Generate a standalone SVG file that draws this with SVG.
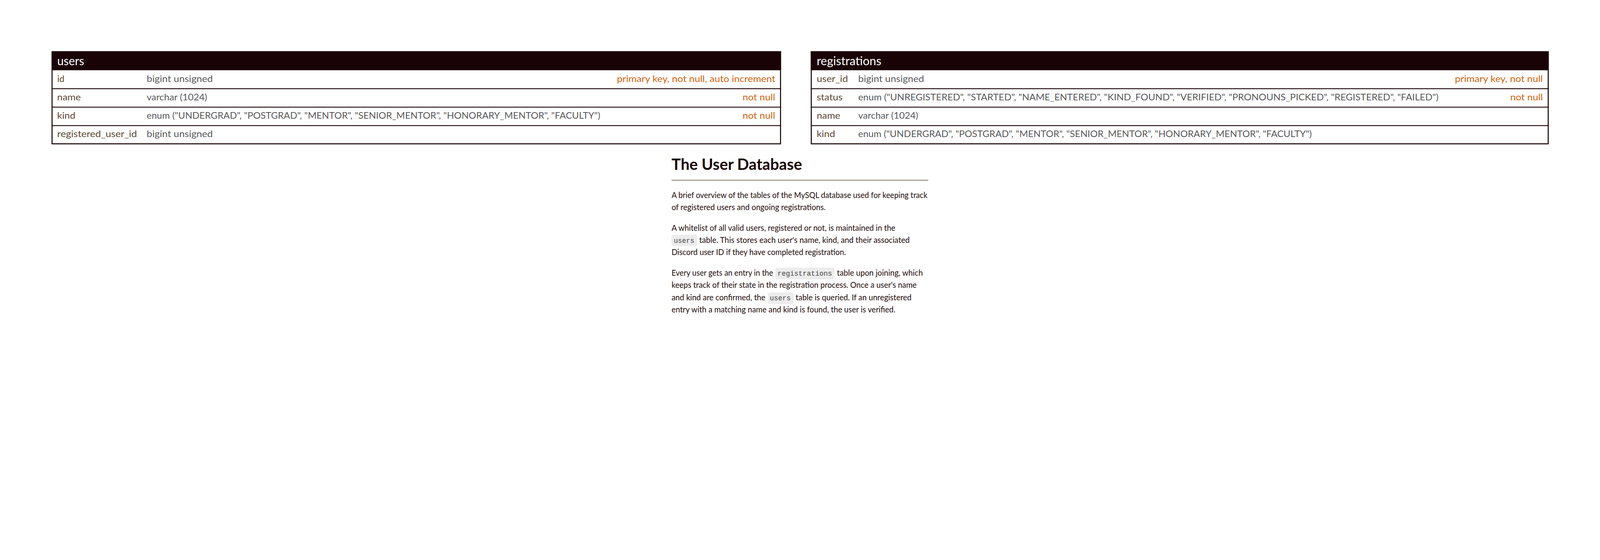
<svg xmlns="http://www.w3.org/2000/svg" width="6240" height="1434" viewBox="0 0 6240 1434" preserveAspectRatio="xMidYMin meet">
<style>
svg{width:100vw;height:100vh;display:block}
text{font-family:Lato,"Open Sans","Noto Sans",sans-serif}
.hd{fill:#1a0306}
.tb{fill:#fff;stroke:#1a0306;stroke-width:4}
.sep{stroke:#1a0306;stroke-width:3.6}
.th{fill:#fff;font-size:46px}
.cn{fill:#5c4731;font-size:35px}
.ct{fill:#58585a;font-size:35px}
.cc{fill:#d4620f;font-size:35px}
.ti{fill:#1a0306;font-size:60px;font-weight:700}
.bd{fill:#1f0c0c;font-size:31px}
.cb{fill:#ececec}
.mo{font-family:"Liberation Mono","DejaVu Sans Mono",monospace;font-size:27px;fill:#444}
</style>
<rect width="6240" height="1434" fill="#fff"/>
<g id="connectors"/>
<g id="users">
<rect class="tb" x="203" y="202" width="2841" height="359"/>
<rect class="hd" x="201" y="200" width="2845" height="74"/>
<line class="sep" x1="201" y1="346" x2="3046" y2="346"/>
<line class="sep" x1="201" y1="418" x2="3046" y2="418"/>
<line class="sep" x1="201" y1="490" x2="3046" y2="490"/>
<text class="th" x="223" y="254" textLength="105" lengthAdjust="spacingAndGlyphs">users</text>
<text class="cn" x="223" y="320" textLength="28" lengthAdjust="spacingAndGlyphs">id</text>
<text class="ct" x="572" y="320" textLength="258" lengthAdjust="spacingAndGlyphs">bigint unsigned</text>
<text class="cc" x="2406" y="320" textLength="618" lengthAdjust="spacingAndGlyphs">primary key, not null, auto increment</text>
<text class="cn" x="223" y="392" textLength="92" lengthAdjust="spacingAndGlyphs">name</text>
<text class="ct" x="572" y="392" textLength="236" lengthAdjust="spacingAndGlyphs">varchar (1024)</text>
<text class="cc" x="2896" y="392" textLength="127" lengthAdjust="spacingAndGlyphs">not null</text>
<text class="cn" x="223" y="463" textLength="71" lengthAdjust="spacingAndGlyphs">kind</text>
<text class="ct" x="572" y="463" textLength="1769" lengthAdjust="spacingAndGlyphs">enum ("UNDERGRAD", "POSTGRAD", "MENTOR", "SENIOR_MENTOR", "HONORARY_MENTOR", "FACULTY")</text>
<text class="cc" x="2896" y="463" textLength="127" lengthAdjust="spacingAndGlyphs">not null</text>
<text class="cn" x="223" y="535" textLength="311" lengthAdjust="spacingAndGlyphs">registered_user_id</text>
<text class="ct" x="572" y="535" textLength="258" lengthAdjust="spacingAndGlyphs">bigint unsigned</text>
</g>
<g id="registrations">
<rect class="tb" x="3164" y="202" width="2874" height="359"/>
<rect class="hd" x="3162" y="200" width="2878" height="74"/>
<line class="sep" x1="3162" y1="346" x2="6040" y2="346"/>
<line class="sep" x1="3162" y1="418" x2="6040" y2="418"/>
<line class="sep" x1="3162" y1="490" x2="6040" y2="490"/>
<text class="th" x="3185" y="254" textLength="252" lengthAdjust="spacingAndGlyphs">registrations</text>
<text class="cn" x="3185" y="320" textLength="122" lengthAdjust="spacingAndGlyphs">user_id</text>
<text class="ct" x="3347" y="320" textLength="257" lengthAdjust="spacingAndGlyphs">bigint unsigned</text>
<text class="cc" x="5674" y="320" textLength="343" lengthAdjust="spacingAndGlyphs">primary key, not null</text>
<text class="cn" x="3185" y="392" textLength="101" lengthAdjust="spacingAndGlyphs">status</text>
<text class="ct" x="3347" y="392" textLength="2263" lengthAdjust="spacingAndGlyphs">enum ("UNREGISTERED", "STARTED", "NAME_ENTERED", "KIND_FOUND", "VERIFIED", "PRONOUNS_PICKED", "REGISTERED", "FAILED")</text>
<text class="cc" x="5890" y="392" textLength="127" lengthAdjust="spacingAndGlyphs">not null</text>
<text class="cn" x="3185" y="463" textLength="92" lengthAdjust="spacingAndGlyphs">name</text>
<text class="ct" x="3347" y="463" textLength="234" lengthAdjust="spacingAndGlyphs">varchar (1024)</text>
<text class="cn" x="3185" y="535" textLength="72" lengthAdjust="spacingAndGlyphs">kind</text>
<text class="ct" x="3347" y="535" textLength="1769" lengthAdjust="spacingAndGlyphs">enum ("UNDERGRAD", "POSTGRAD", "MENTOR", "SENIOR_MENTOR", "HONORARY_MENTOR", "FACULTY")</text>
</g>
<g id="description">
<text class="ti" x="2619" y="663" textLength="509" lengthAdjust="spacingAndGlyphs">The User Database</text>
<line x1="2619" y1="703" x2="3620" y2="703" stroke="#5c4a33" stroke-width="2.5"/>
<text class="bd" x="2619" y="772" textLength="998" lengthAdjust="spacingAndGlyphs">A brief overview of the tables of the MySQL database used for keeping track</text>
<text class="bd" x="2619" y="819" textLength="601" lengthAdjust="spacingAndGlyphs">of registered users and ongoing registrations.</text>
<text class="bd" x="2619" y="900" textLength="873" lengthAdjust="spacingAndGlyphs">A whitelist of all valid users, registered or not, is maintained in the</text>
<rect class="cb" x="2619" y="916" width="100" height="44" rx="7"/>
<text class="mo" x="2628" y="947" textLength="80" lengthAdjust="spacingAndGlyphs">users</text>
<text class="bd" x="2727" y="947" textLength="821" lengthAdjust="spacingAndGlyphs">table. This stores each user's name, kind, and their associated</text>
<text class="bd" x="2619" y="995" textLength="680" lengthAdjust="spacingAndGlyphs">Discord user ID if they have completed registration.</text>
<text class="bd" x="2619" y="1075" textLength="396" lengthAdjust="spacingAndGlyphs">Every user gets an entry in the</text>
<rect class="cb" x="3024" y="1044" width="231" height="46" rx="7"/>
<text class="mo" x="3032" y="1075" textLength="213" lengthAdjust="spacingAndGlyphs">registrations</text>
<text class="bd" x="3264" y="1075" textLength="335" lengthAdjust="spacingAndGlyphs">table upon joining, which</text>
<text class="bd" x="2619" y="1123" textLength="956" lengthAdjust="spacingAndGlyphs">keeps track of their state in the registration process. Once a user's name</text>
<text class="bd" x="2619" y="1171" textLength="366" lengthAdjust="spacingAndGlyphs">and kind are confirmed, the</text>
<rect class="cb" x="2995" y="1141" width="101" height="45" rx="7"/>
<text class="mo" x="3002" y="1171" textLength="82" lengthAdjust="spacingAndGlyphs">users</text>
<text class="bd" x="3103" y="1171" textLength="452" lengthAdjust="spacingAndGlyphs">table is queried. If an unregistered</text>
<text class="bd" x="2619" y="1219" textLength="873" lengthAdjust="spacingAndGlyphs">entry with a matching name and kind is found, the user is verified.</text>
</g>
</svg>
